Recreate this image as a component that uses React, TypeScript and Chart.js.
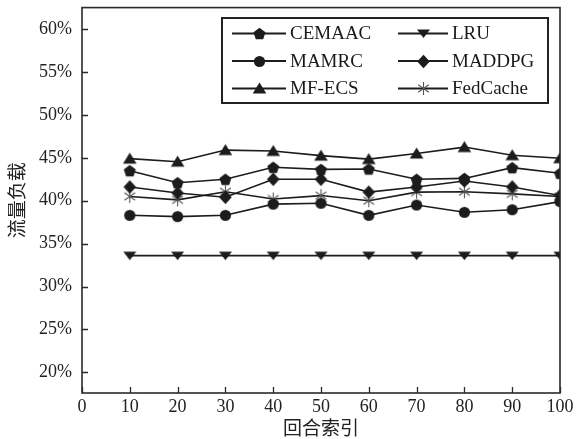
import React, { useEffect, useRef } from 'react';
import { Chart, registerables } from 'chart.js';

Chart.register(...registerables);

const rounds = [10, 20, 30, 40, 50, 60, 70, 80, 90, 100];
const cemaac = [43.5, 42.1, 42.5, 43.9, 43.65, 43.7, 42.5, 42.6, 43.85, 43.2];
const lru = [33.6, 33.6, 33.6, 33.6, 33.6, 33.6, 33.6, 33.6, 33.6, 33.6];
const mamrc = [38.3, 38.15, 38.3, 39.6, 39.7, 38.3, 39.5, 38.65, 38.95, 39.9];
const maddpg = [41.6, 40.9, 40.4, 42.5, 42.5, 41.0, 41.6, 42.3, 41.6, 40.6];
const mfecs = [44.9, 44.55, 45.9, 45.8, 45.25, 44.85, 45.5, 46.25, 45.3, 44.95];
const fedcache = [40.5, 40.1, 41.05, 40.2, 40.6, 40.0, 41.0, 41.05, 40.8, 40.5];

const yTicks = [20, 25, 30, 35, 40, 45, 50, 55, 60];
const xTicks = [0, 10, 20, 30, 40, 50, 60, 70, 80, 90, 100];
const xTitle = '回合索引';
const yTitle = '流量负载';

const seriesNames = ['CEMAAC', 'LRU', 'MAMRC', 'MADDPG', 'MF-ECS', 'FedCache'];
const seriesValues = [cemaac, lru, mamrc, maddpg, mfecs, fedcache];
const seriesMarkers = ['pentagon', 'triDown', 'circle', 'diamond', 'triUp', 'asterisk'];

const INK = '#1c1c1c';
const SERIF = '"Liberation Serif", "Times New Roman", serif';
const CJK = '"Noto Sans CJK SC", sans-serif';

function makeMarker(kind: string): HTMLCanvasElement {
  const s = 15;
  const c = document.createElement('canvas');
  c.width = s;
  c.height = s;
  const g = c.getContext('2d')!;
  const cx = s / 2;
  const cy = s / 2;
  g.fillStyle = INK;
  g.strokeStyle = INK;
  g.beginPath();
  if (kind === 'pentagon') {
    const r = 6.3;
    for (let k = 0; k < 5; k++) {
      const a = -Math.PI / 2 + (k * 2 * Math.PI) / 5;
      const x = cx + r * Math.cos(a);
      const y = cy + 0.6 + r * Math.sin(a);
      if (k === 0) g.moveTo(x, y);
      else g.lineTo(x, y);
    }
    g.closePath();
    g.fill();
  } else if (kind === 'circle') {
    g.arc(cx, cy, 5.6, 0, Math.PI * 2);
    g.fill();
  } else if (kind === 'triUp') {
    g.moveTo(cx, 1.5);
    g.lineTo(cx + 6.8, 12.5);
    g.lineTo(cx - 6.8, 12.5);
    g.closePath();
    g.fill();
  } else if (kind === 'triDown') {
    g.moveTo(cx - 6.5, 3.5);
    g.lineTo(cx + 6.5, 3.5);
    g.lineTo(cx, 12);
    g.closePath();
    g.fill();
  } else if (kind === 'diamond') {
    g.moveTo(cx, 0.8);
    g.lineTo(cx + 6.3, cy);
    g.lineTo(cx, s - 0.8);
    g.lineTo(cx - 6.3, cy);
    g.closePath();
    g.fill();
  } else if (kind === 'asterisk') {
    g.strokeStyle = '#555';
    g.lineWidth = 1.1;
    const r = 6.5;
    for (const deg of [90, 35, 145]) {
      const a = (deg * Math.PI) / 180;
      g.moveTo(cx - r * Math.cos(a), cy - r * Math.sin(a));
      g.lineTo(cx + r * Math.cos(a), cy + r * Math.sin(a));
    }
    g.stroke();
  }
  return c;
}

export default function App() {
  const ref = useRef<HTMLCanvasElement | null>(null);

  useEffect(() => {
    document.body.style.margin = '0';
    const canvas = ref.current;
    if (!canvas) return;
    const markers = seriesMarkers.map(makeMarker);

    const framePlugin = {
      id: 'frameAndLegend',
      afterDraw(chart: any) {
        const { ctx, chartArea: a, scales } = chart;
        ctx.save();
        // inward ticks
        ctx.strokeStyle = '#2a2a2a';
        ctx.lineWidth = 1.3;
        ctx.beginPath();
        for (const v of yTicks) {
          const y = Math.round(scales.y.getPixelForValue(v)) + 0.5;
          ctx.moveTo(a.left, y);
          ctx.lineTo(a.left + 6, y);
        }
        for (const v of xTicks) {
          const x = Math.round(scales.x.getPixelForValue(v)) + 0.5;
          ctx.moveTo(x, a.bottom);
          ctx.lineTo(x, a.bottom - 6);
        }
        ctx.stroke();
        // frame
        ctx.lineWidth = 1.6;
        ctx.strokeRect(a.left, a.top, a.right - a.left, a.bottom - a.top);

        // legend box
        const lx = 222;
        const ly = 18;
        const lw = 326;
        const lh = 85;
        ctx.fillStyle = '#fff';
        ctx.fillRect(lx, ly, lw, lh);
        ctx.strokeStyle = '#222';
        ctx.lineWidth = 2;
        ctx.strokeRect(lx, ly, lw, lh);
        ctx.font = `19px ${SERIF}`;
        ctx.textBaseline = 'middle';
        ctx.textAlign = 'left';
        const cols = [
          { x0: 232, x1: 286, tx: 290 },
          { x0: 398, x1: 448, tx: 452 },
        ];
        for (let i = 0; i < seriesNames.length; i++) {
          const col = cols[i % 2];
          const row = Math.floor(i / 2);
          const y = 33.5 + row * 27.5;
          ctx.strokeStyle = INK;
          ctx.lineWidth = 1.8;
          ctx.beginPath();
          ctx.moveTo(col.x0, y);
          ctx.lineTo(col.x1, y);
          ctx.stroke();
          const m = markers[i];
          const mx = (col.x0 + col.x1) / 2;
          ctx.drawImage(m, Math.round(mx - m.width / 2), Math.round(y - m.height / 2));
          ctx.fillStyle = '#1a1a1a';
          ctx.fillText(seriesNames[i], col.tx, y + 1);
        }
        ctx.restore();
      },
    };

    const chart = new Chart(canvas, {
      type: 'line',
      data: {
        datasets: seriesNames.map((name, i) => ({
          label: name,
          data: rounds.map((r, j) => ({ x: r, y: seriesValues[i][j] })),
          borderColor: INK,
          backgroundColor: INK,
          borderWidth: 1.6,
          pointStyle: markers[i] as any,
          pointRadius: 6,
          tension: 0,
          fill: false,
        })),
      },
      options: {
        responsive: false,
        animation: false,
        devicePixelRatio: 1,
        layout: { padding: { top: 7, right: 16, left: 0, bottom: 0 } },
        plugins: {
          legend: { display: false },
          tooltip: { enabled: false },
        },
        scales: {
          x: {
            type: 'linear',
            min: 0,
            max: 100,
            afterBuildTicks: (s: any) => {
              s.ticks = xTicks.map((v) => ({ value: v }));
            },
            afterFit: (s: any) => {
              s.height = 46;
              s.paddingLeft = 0;
              s.paddingRight = 0;
            },
            grid: { display: false, drawTicks: false },
            border: { display: false },
            ticks: {
              font: { family: SERIF, size: 18 },
              color: '#222',
              padding: 3,
              maxRotation: 0,
              autoSkip: false,
            },
            title: {
              display: true,
              text: xTitle,
              font: { family: CJK, size: 19 },
              color: '#222',
              padding: { top: 0, bottom: 0 },
            },
          },
          y: {
            type: 'linear',
            min: 17.6,
            max: 62.5,
            afterBuildTicks: (s: any) => {
              s.ticks = yTicks.map((v) => ({ value: v }));
            },
            afterFit: (s: any) => {
              s.width = 82;
              s.paddingTop = 0;
              s.paddingBottom = 0;
            },
            grid: { display: false, drawTicks: false },
            border: { display: false },
            ticks: {
              font: { family: SERIF, size: 18 },
              color: '#222',
              padding: 10,
              callback: (v: any) => `${v}%`,
            },
            title: {
              display: true,
              text: yTitle,
              font: { family: CJK, size: 19 },
              color: '#222',
              padding: { top: 5, bottom: 0 },
            },
          },
        },
      },
      plugins: [framePlugin],
    });
    return () => chart.destroy();
  }, []);

  return (
    <div style={{ width: 576, height: 439 }}>
      <canvas ref={ref} width={576} height={439} />
    </div>
  );
}
